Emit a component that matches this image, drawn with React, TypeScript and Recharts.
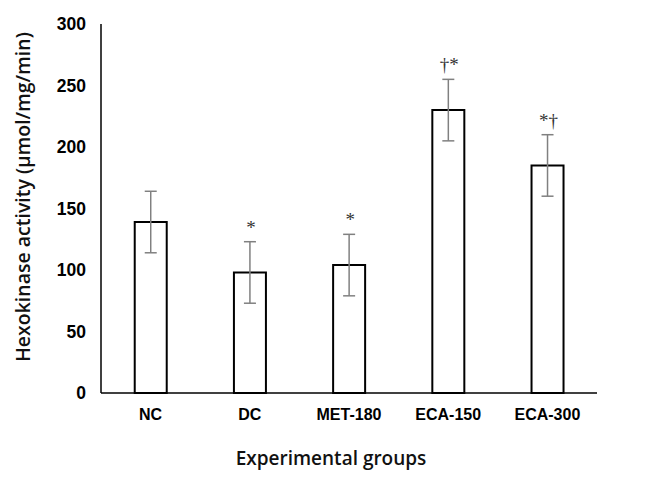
import { Bar, BarChart, ErrorBar, LabelList, XAxis, YAxis, Label } from 'recharts';

const groups = ['NC', 'DC', 'MET-180', 'ECA-150', 'ECA-300'];
const activity = [139, 98, 104, 230, 185];
const sd = [25, 25, 25, 25, 25];
const marks = ['', '*', '*', '†*', '*†'];
const yTicks = [0, 50, 100, 150, 200, 250, 300];

const data = groups.map((g, i) => ({ group: g, value: activity[i], err: sd[i], mark: marks[i] }));

const MarkLabel = (props: any) => {
  const { x, y, width, height, index } = props;
  const mark = marks[index];
  if (!mark) return null;
  const pxPerUnit = height / activity[index];
  const errTop = y - sd[index] * pxPerUnit;
  return (
    <text
      x={x + width / 2 + 1}
      y={errTop - 8}
      textAnchor="middle"
      fontFamily="Liberation Serif"
      fontSize={19}
      fill="#333"
    >
      {mark}
    </text>
  );
};

export default function App() {
  return (
    <div style={{ position: 'absolute', left: 0, top: 0 }}>
      <BarChart
        width={664}
        height={478}
        data={data}
        margin={{ top: 24, right: 67, left: 0, bottom: 0 }}
        barCategoryGap="34%"
      >
        <XAxis
          dataKey="group"
          height={85}
          tickLine={false}
          tickSize={0}
          tickMargin={16}
          axisLine={{ stroke: '#000', strokeWidth: 1.5 }}
          tick={{ fill: '#000', fontSize: 16, fontWeight: 'bold', fontFamily: 'Liberation Sans' }}
        >
          <Label
            content={() => (
              <text
                x={331}
                y={465}
                textAnchor="middle"
                fontFamily="Open Sans"
                fontSize={19}
                fontWeight={600}
                fill="#111"
              >
                Experimental groups
              </text>
            )}
          />
        </XAxis>
        <YAxis
          width={101}
          domain={[0, 300]}
          ticks={yTicks}
          tickLine={false}
          tickSize={0}
          tickMargin={15}
          axisLine={{ stroke: '#000', strokeWidth: 1.5 }}
          tick={{ fill: '#000', fontSize: 17.5, fontWeight: 'bold', fontFamily: 'Liberation Sans' }}
        >
          <Label
            content={() => (
              <text
                transform="translate(30,197) rotate(-90)"
                textAnchor="middle"
                fontFamily="Open Sans"
                fontSize={19.5}
                fontWeight={600}
                fill="#111"
              >
                Hexokinase activity (µmol/mg/min)
              </text>
            )}
          />
        </YAxis>
        <Bar dataKey="value" fill="#fff" stroke="#000" strokeWidth={2} isAnimationActive={false}>
          <ErrorBar dataKey="err" width={6} stroke="#808080" strokeWidth={1.5} />
          <LabelList dataKey="mark" content={MarkLabel} />
        </Bar>
      </BarChart>
    </div>
  );
}
